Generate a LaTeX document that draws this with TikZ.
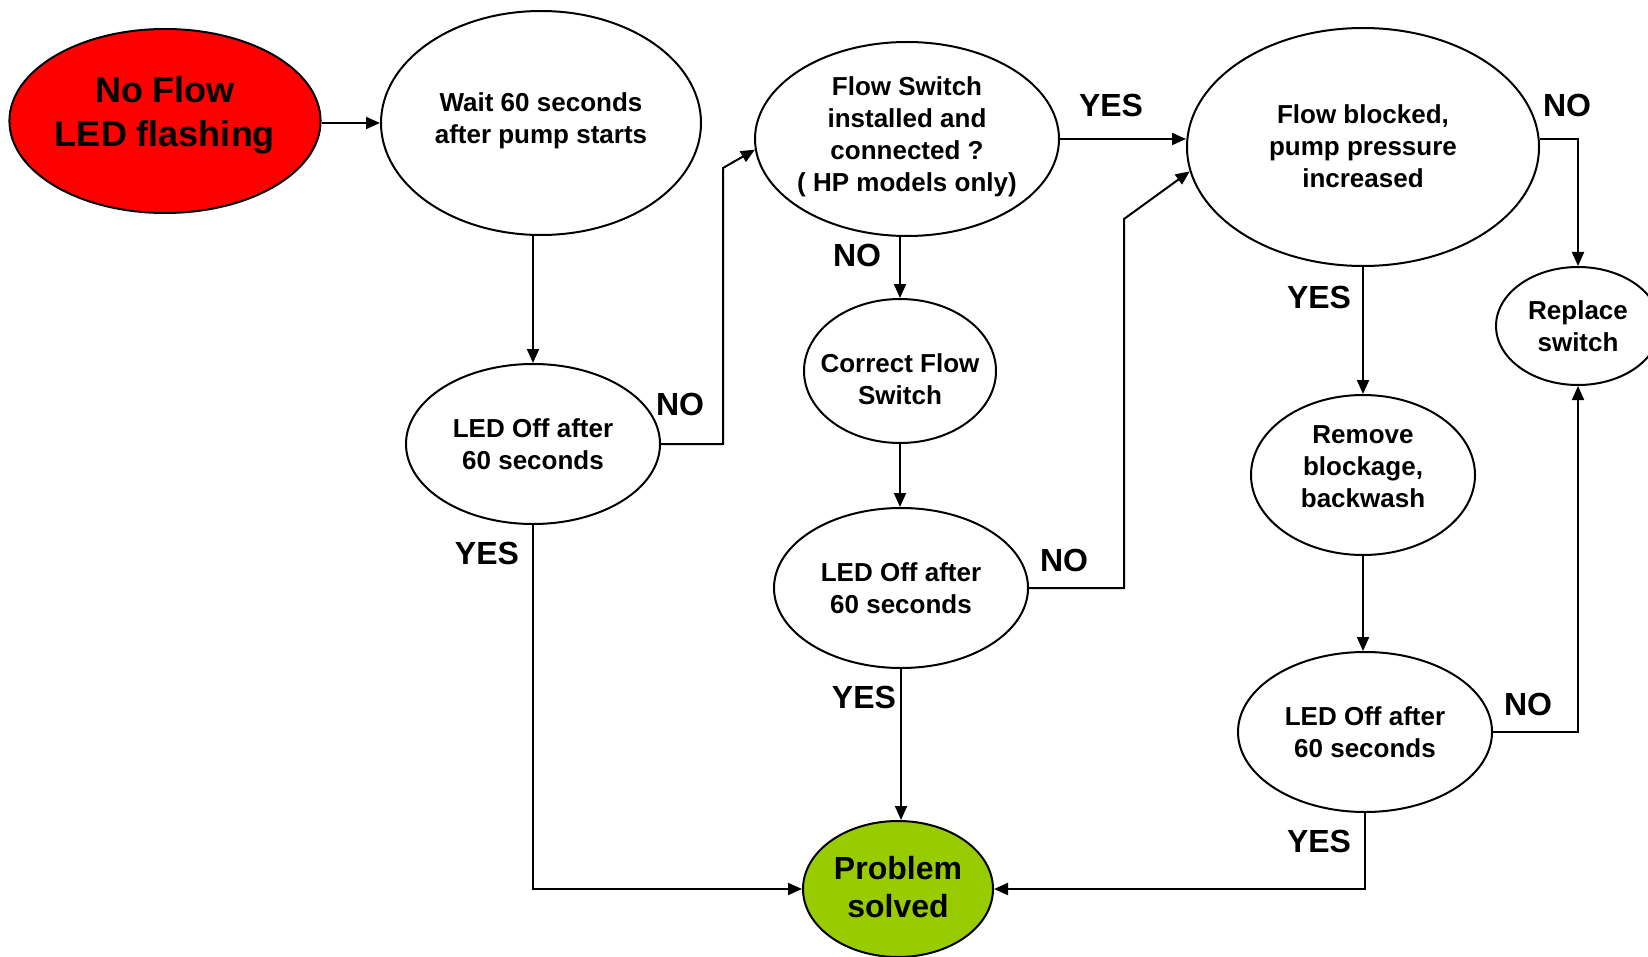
\documentclass[tikz,border=0pt]{standalone}
\usepackage{fontspec}
\setmainfont{Liberation Sans}
\usetikzlibrary{shapes.geometric,arrows.meta}
\definecolor{solvedgreen}{HTML}{99CC00}
\definecolor{startred}{HTML}{FF0000}
\newcommand{\liftlines}[2]{\raisebox{#1}[\height][\depth]{\begin{tabular}{@{}c@{}}#2\end{tabular}}}
\begin{document}
\begin{tikzpicture}[x=0.5pt,y=-0.5pt,
  oval/.style={ellipse,draw,line width=1pt,inner sep=0pt,align=center,
    font=\fontsize{13}{16}\selectfont\bfseries},
  conn/.style={line width=1pt,-{Triangle[length=7pt,width=6pt]}},
  lbl/.style={font=\fontsize{16}{19}\selectfont\bfseries,inner sep=0pt}]
\useasboundingbox (0,0) rectangle (1648,957);
% nodes
\node[oval,fill=startred,minimum width=153pt,minimum height=92pt,
  font=\fontsize{18}{22}\selectfont\bfseries] (start) at (165,121) {\liftlines{2.4pt}{No Flow\\LED flashing}};
\node[oval,minimum width=160pt,minimum height=112pt] (wait) at (541,123) {\liftlines{1pt}{Wait 60 seconds\\after pump starts}};
\node[oval,minimum width=127pt,minimum height=80pt] (led1) at (533,444) {LED Off after\\60 seconds};
\node[oval,inner xsep=-1.5pt,minimum width=152pt,minimum height=97pt] (fs) at (907,139) {\liftlines{1pt}{Flow Switch\\installed and\\connected ?\\( HP models only)}};
\node[oval,inner xsep=-7pt,minimum width=96pt,minimum height=72pt] (cfs) at (900,371) {\liftlines{-5.5pt}{Correct Flow\\Switch}};
\node[oval,minimum width=127pt,minimum height=80pt] (led2) at (901,588) {LED Off after\\60 seconds};
\node[oval,minimum width=176pt,minimum height=119pt] (fb) at (1363,147) {\liftlines{-1.1pt}{Flow blocked,\\pump pressure\\increased}};
\node[oval,minimum width=82pt,minimum height=59pt] (rs) at (1578,326) {Replace\\switch};
\node[oval,minimum width=112pt,minimum height=80pt] (rb) at (1363,475) {\liftlines{3.2pt}{Remove\\blockage,\\backwash}};
\node[oval,minimum width=127pt,minimum height=80pt] (led3) at (1365,732) {LED Off after\\60 seconds};
\node[oval,fill=solvedgreen,minimum width=95pt,minimum height=68pt,
  font=\fontsize{16}{19}\selectfont\bfseries] (ps) at (898,889) {\liftlines{-1pt}{Problem\\solved}};
% bend points
\coordinate (a2) at (723,168);
\coordinate (b2) at (1124,219);
% connectors
\draw[conn] (wait.west -| start.east) -- (wait.west);
\draw[conn] (wait.south -| led1.north) -- (led1.north);
\draw[conn] (led1.east) -| (a2) -- (fs.184);
\draw[conn] (led1.south) |- (ps.west);
\draw[conn] (fs.south -| cfs.north) -- (cfs.north);
\draw[conn] (fs.east) -- (fs.east -| fb.west);
\draw[conn] (cfs.south) -- (cfs.south |- led2.north);
\draw[conn] (led2.south) -- (led2.south |- ps.north);
\draw[conn] (led2.east) -| (b2) -- (fb.188);
\draw[conn] (fb.south) -- (rb.north);
\draw[conn] (fs.east -| fb.east) -| (rs.north);
\draw[conn] (rb.south) -- (rb.south |- led3.north);
\draw[conn] (led3.east) -| (rs.south);
\draw[conn] (led3.south) |- (ps.east);
% labels
\node[lbl] (l1) at (680,404) {NO};
\node[lbl] (l2) at (487,553) {YES};
\node[lbl] (l3) at (857,255) {NO};
\node[lbl] (l4) at (1111,105) {YES};
\node[lbl] (l5) at (1064,560) {NO};
\node[lbl] (l6) at (864,697) {YES};
\node[lbl] (l7) at (1319,297) {YES};
\node[lbl] (l8) at (1567,105) {NO};
\node[lbl] (l9) at (1528,704) {NO};
\node[lbl] (l10) at (1319,841) {YES};
\end{tikzpicture}
\end{document}
